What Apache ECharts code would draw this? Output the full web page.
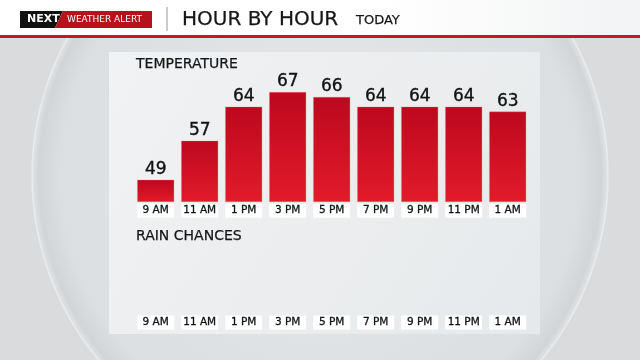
<!DOCTYPE html>
<html>
<head>
<meta charset="utf-8">
<script src="https://cdn.jsdelivr.net/npm/echarts@6/dist/echarts.min.js"></script>
<style>
html,body{margin:0;padding:0;background:#d9dbdd;}
#main{width:640px;height:360px;}
</style>
</head>
<body>
<div id="main"></div>
<script>
var hours = ['9 AM','11 AM','1 PM','3 PM','5 PM','7 PM','9 PM','11 PM','1 AM'];
var temperatures = [49,57,64,67,66,64,64,64,63];
var rainChances = [0,0,0,0,0,0,0,0,0];
var headerTitle = 'HOUR BY HOUR';
var headerSub = 'TODAY';
var FONT = 'DejaVu Sans';

var chart = echarts.init(document.getElementById('main'), null, {renderer:'canvas'});

var axisLabelStyle = {
  margin: 2, color: '#111', fontSize: 10.5, fontFamily: FONT,
  textBorderColor: '#111', textBorderWidth: 0.3,
  backgroundColor: '#ffffff', width: 37, height: 14, lineHeight: 14,
  align: 'center', padding: 0, interval: 0
};

function txt(x, y, s, font) {
  return {type:'text', z:22, x:x, y:y,
    style:{text:s, fill:'#161616', font:font, verticalAlign:'middle', stroke:'#161616', lineWidth:0.25}};
}

var option = {
  backgroundColor: '#d9dbdd',
  animation: false,
  graphic: [
    {type:'circle', z:-20, shape:{cx:320, cy:176, r:288},
     style:{fill:{type:'radial', x:0.5, y:0.5, r:0.5, colorStops:[
       {offset:0, color:'#e6e8ea'},{offset:0.9, color:'#dcdfe1'},{offset:0.975, color:'#d2d5d7'},{offset:1, color:'#e3e5e7'}]},
       stroke:'rgba(240,242,244,0.6)', lineWidth:1.5}},
    {type:'rect', z:-10, shape:{x:109, y:52, width:431, height:282},
     style:{fill:{type:'linear', x:0, y:0, x2:1, y2:1, colorStops:[
       {offset:0, color:'#f1f2f3'},{offset:1, color:'#e6e9eb'}]}}},
    {type:'rect', z:20, shape:{x:0, y:0, width:640, height:35},
     style:{fill:{type:'linear', x:0, y:0, x2:1, y2:0, colorStops:[
       {offset:0, color:'#ffffff'},{offset:0.6, color:'#ffffff'},{offset:1, color:'#f2f3f4'}]}}},
    {type:'rect', z:20, shape:{x:0, y:35, width:640, height:3},
     style:{fill:'#d4111f'}},
    {type:'polygon', z:21, shape:{points:[[20,11],[63,11],[55,28],[20,28]]}, style:{fill:'#111111'}},
    {type:'polygon', z:21, shape:{points:[[63,11],[152,11],[152,28],[55,28]]}, style:{fill:'#b5121c'}},
    {type:'text', z:22, x:27, y:19.5, style:{text:'NEXT', fill:'#ffffff', font:'bold 11px "DejaVu Sans"', verticalAlign:'middle'}},
    {type:'text', z:22, x:67, y:20, style:{text:'WEATHER ALERT', fill:'#ffffff', font:'9px "DejaVu Sans"', verticalAlign:'middle'}},
    {type:'rect', z:21, shape:{x:166.5, y:7, width:1, height:24}, style:{fill:'#9a9a9a'}},
    txt(182, 20, headerTitle, '20px "DejaVu Sans"'),
    txt(356, 20.5, headerSub, '13px "DejaVu Sans"'),
    txt(136, 64, 'TEMPERATURE', '14px "DejaVu Sans"'),
    txt(136, 236, 'RAIN CHANCES', '14px "DejaVu Sans"')
  ],
  grid: [
    {left:133.7, width:396, top:77.5, height:124.2},
    {left:133.7, width:396, top:250, height:63.5}
  ],
  xAxis: [
    {type:'category', gridIndex:0, data:hours, axisLine:{show:false}, axisTick:{show:false}, axisLabel:axisLabelStyle},
    {type:'category', gridIndex:1, data:hours, axisLine:{show:false}, axisTick:{show:false}, axisLabel:axisLabelStyle}
  ],
  yAxis: [
    {type:'value', gridIndex:0, min:44.5, max:70, show:false},
    {type:'value', gridIndex:1, min:0, max:100, show:false}
  ],
  series: [
    {type:'bar', xAxisIndex:0, yAxisIndex:0, data:temperatures, barWidth:37,
     itemStyle:{color:{type:'linear', x:0, y:0, x2:0, y2:1, colorStops:[
       {offset:0, color:'#bd081e'},{offset:1, color:'#e31b2a'}]},
       borderColor:'rgba(240,120,130,0.6)', borderWidth:0.5},
     label:{show:true, position:'top', distance:2, color:'#111', fontSize:17, fontFamily:FONT,
       textBorderColor:'#111', textBorderWidth:0.35}},
    {type:'bar', xAxisIndex:1, yAxisIndex:1, data:rainChances, barWidth:37,
     itemStyle:{color:'#2a6fc0'}}
  ]
};
chart.setOption(option);
</script>
</body>
</html>
